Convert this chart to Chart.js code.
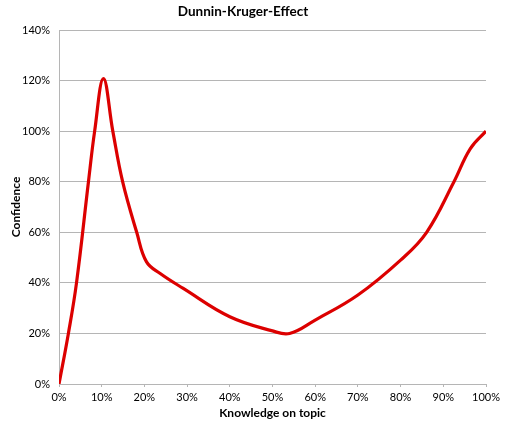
<!DOCTYPE html>
<html>
<head>
<meta charset="utf-8">
<script src="https://cdn.jsdelivr.net/npm/chart.js@4/dist/chart.umd.min.js"></script>
<style>
  html, body { margin: 0; padding: 0; background: #fff; }
  #wrap { width: 505px; height: 427px; }
</style>
</head>
<body>
<div id="wrap"><canvas id="dk"></canvas></div>
<script>
// Knowledge (x, %) and confidence (y, %)
const knowledge  = [0, 2.2, 4.1, 6.9, 8.35, 10.4, 12.6, 14.9, 18.2, 20.5, 23.7, 29.1, 40, 50, 54, 60, 70, 80, 86.1, 92.5, 96.3, 100];
const confidence = [0, 20, 40, 80, 100, 120.8, 100, 80, 60, 48.3, 43.7, 37.8, 26.6, 21, 20, 25.3, 35.2, 49, 60, 80, 93, 100];

const xTicks = [0, 10, 20, 30, 40, 50, 60, 70, 80, 90, 100];
const yTicks = [0, 20, 40, 60, 80, 100, 120, 140];

const fontFamily = 'Lato, "Open Sans", sans-serif';
const points = knowledge.map((k, i) => ({ x: k, y: confidence[i] }));

new Chart(document.getElementById('dk'), {
  type: 'line',
  data: {
    datasets: [{
      data: points,
      borderColor: '#dc0000',
      borderWidth: 3.2,
      pointRadius: 0,
      fill: false,
      tension: 0.4
    }]
  },
  options: {
    responsive: true,
    maintainAspectRatio: false,
    animation: false,
    layout: { padding: { left: 0, right: 19, top: 0, bottom: 0 } },
    plugins: {
      legend: { display: false },
      tooltip: { enabled: false },
      title: {
        display: true,
        text: 'Dunnin-Kruger-Effect',
        color: '#000',
        font: { family: fontFamily, size: 13.5, weight: 'bold' },
        padding: { top: 4, bottom: 9.8 }
      }
    },
    scales: {
      x: {
        type: 'linear',
        min: 0,
        max: 100,
        afterBuildTicks: s => { s.ticks = xTicks.map(v => ({ value: v })); },
        afterFit: s => { s.height = 43; },
        ticks: {
          color: '#000',
          font: { family: fontFamily, size: 11 },
          padding: 4,
          maxRotation: 0,
          callback: v => v + '%'
        },
        grid: { drawOnChartArea: false, drawTicks: true, tickLength: 3, color: '#b5b5b5' },
        border: { color: '#b5b5b5' },
        title: {
          display: true,
          text: 'Knowledge on topic',
          color: '#000',
          font: { family: fontFamily, size: 12, weight: 'bold' },
          padding: { top: 2, bottom: 7 }
        }
      },
      y: {
        min: 0,
        max: 140,
        afterBuildTicks: s => { s.ticks = yTicks.map(v => ({ value: v })); },
        afterFit: s => { s.width = 59; },
        ticks: {
          color: '#000',
          font: { family: fontFamily, size: 11 },
          padding: 9,
          callback: v => v + '%'
        },
        grid: { color: '#b5b5b5', drawTicks: false },
        border: { color: '#b5b5b5' },
        title: {
          display: true,
          text: 'Confidence',
          color: '#000',
          font: { family: fontFamily, size: 12, weight: 'bold' },
          padding: { top: 9, bottom: 0 }
        }
      }
    }
  }
});
</script>
</body>
</html>
